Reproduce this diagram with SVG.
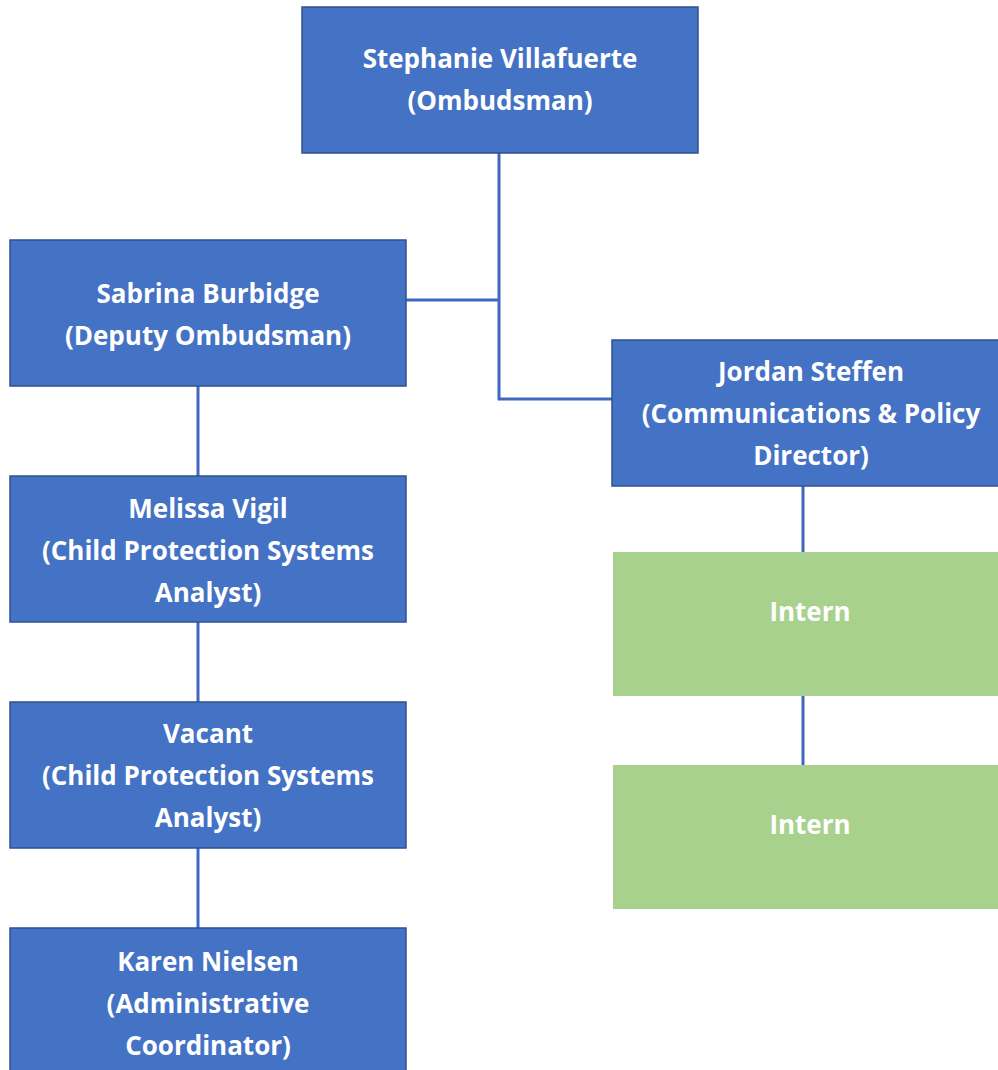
<svg xmlns="http://www.w3.org/2000/svg" width="998" height="1070" viewBox="0 0 998 1070">
<style>
.b{fill:#4472C4;stroke:#2F528F;stroke-width:1.5}
.g{fill:#A9D18E;stroke:none}
.t{font-family:"Open Sans","Liberation Sans",sans-serif;font-weight:bold;font-size:26px;fill:#ffffff;text-anchor:middle}
.c{fill:none;stroke:#4068C0;stroke-width:3}
</style>
<rect width="998" height="1070" fill="#ffffff"/>
<g id="connectors">
<polyline class="c" points="499,153 499,399 612,399"/>
<line class="c" x1="406" y1="300" x2="499" y2="300"/>
<line class="c" x1="198" y1="386" x2="198" y2="476"/>
<line class="c" x1="198" y1="622" x2="198" y2="702"/>
<line class="c" x1="198" y1="848" x2="198" y2="928"/>
<line class="c" x1="803" y1="486" x2="803" y2="552"/>
<line class="c" x1="803" y1="696" x2="803" y2="765"/>
</g>
<g id="stephanie">
<rect class="b" x="302" y="7" width="396" height="146"/>
<text class="t" x="500" y="68">Stephanie Villafuerte</text>
<text class="t" x="500" y="110">(Ombudsman)</text>
</g>
<g id="sabrina">
<rect class="b" x="10" y="240" width="396" height="146"/>
<text class="t" x="208" y="303">Sabrina Burbidge</text>
<text class="t" x="208" y="345">(Deputy Ombudsman)</text>
</g>
<g id="jordan">
<rect class="b" x="612" y="340" width="390" height="146"/>
<text class="t" x="811" y="381">Jordan Steffen</text>
<text class="t" x="811" y="423">(Communications &amp; Policy</text>
<text class="t" x="811" y="465">Director)</text>
</g>
<g id="intern1">
<rect class="g" x="613" y="552" width="390" height="144"/>
<text class="t" x="810" y="621">Intern</text>
</g>
<g id="intern2">
<rect class="g" x="613" y="765" width="390" height="144"/>
<text class="t" x="810" y="834">Intern</text>
</g>
<g id="melissa">
<rect class="b" x="10" y="476" width="396" height="146"/>
<text class="t" x="208" y="518">Melissa Vigil</text>
<text class="t" x="208" y="560">(Child Protection Systems</text>
<text class="t" x="208" y="602">Analyst)</text>
</g>
<g id="vacant">
<rect class="b" x="10" y="702" width="396" height="146"/>
<text class="t" x="208" y="743">Vacant</text>
<text class="t" x="208" y="785">(Child Protection Systems</text>
<text class="t" x="208" y="827">Analyst)</text>
</g>
<g id="karen">
<rect class="b" x="10" y="928" width="396" height="150"/>
<text class="t" x="208" y="971">Karen Nielsen</text>
<text class="t" x="208" y="1013">(Administrative</text>
<text class="t" x="208" y="1055">Coordinator)</text>
</g>
</svg>
